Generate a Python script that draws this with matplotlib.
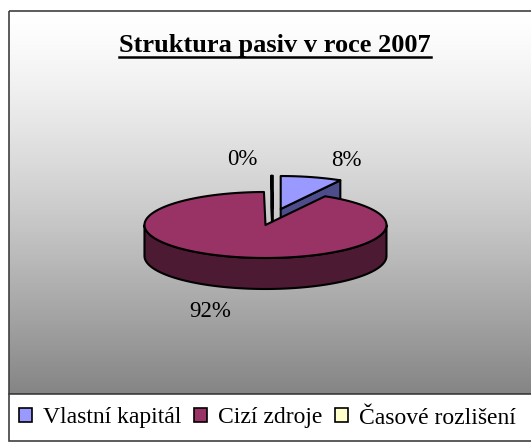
import numpy as np
import matplotlib.pyplot as plt
from matplotlib.patches import Polygon, Rectangle, Patch
from matplotlib.colors import LinearSegmentedColormap

plt.rcParams['font.family'] = ['Liberation Serif', 'DejaVu Serif']

# data
nazvy = ['Vlastní kapitál', 'Cizí zdroje', 'Časové rozlišení']
podily = [8.2, 91.6, 0.2]
barvy = ['#9999FF', '#993366', '#FFFFCC']
barvy_bok = ['#4D4D8C', '#4D1A33', '#808066']
titulek = 'Struktura pasiv v roce 2007'

# geometry of the 3d pie (pixels)
cx, cy = 273, 217
a, b = 121, 33
hloubka = 31
explode = 0.25
label_nudge = [(35, -17), (-25, 24), (-30, -16)]

fig = plt.figure(figsize=(5.31, 4.43), dpi=100)
ax = fig.add_axes([0, 0, 1, 1])
ax.set_xlim(0, 531)
ax.set_ylim(443, 0)
ax.axis('off')

# background gradient
cmap = LinearSegmentedColormap.from_list('g', ['#FFFFFF', '#858585'])
grad = np.linspace(0, 1, 256) ** 1.3
ax.imshow(grad.reshape(-1, 1), extent=(9, 531, 394, 11), cmap=cmap, aspect='auto',
          origin='upper', zorder=0, vmin=0, vmax=1)
ax.add_patch(Rectangle((9, 11), 530, 383, fill=False, edgecolor='#404040', lw=1.2, zorder=1))


def bod(sx, sy, t, dy=0):
    t = np.radians(t)
    return sx + a * np.cos(t), sy - b * np.sin(t) + dy


celkem = sum(podily)
start = 90.0
rezy = []
cum = 0
for i, v in enumerate(podily):
    t1 = start - cum / celkem * 360
    cum += v
    t2 = start - cum / celkem * 360
    mid = np.radians((t1 + t2) / 2)
    sx = cx + explode * a * np.cos(mid)
    sy = cy - explode * b * np.sin(mid)
    rezy.append((sy, i, t1, t2, sx))

kw = dict(edgecolor='black', lw=1.5, joinstyle='round')
for sy, i, t1, t2, sx in sorted(rezy):
    # radial faces
    for t, vis in ((t2, np.cos(np.radians(t2)) > 1e-6), (t1, np.cos(np.radians(t1)) < -1e-6)):
        if vis:
            p = bod(sx, sy, t)
            ax.add_patch(Polygon([(sx, sy), p, (p[0], p[1] + hloubka), (sx, sy + hloubka)],
                                 facecolor=barvy_bok[i], zorder=2, **kw))
    # outer wall (front half only)
    lo, hi = t2, t1
    for k in range(-2, 2):
        f0, f1 = -180 + 360 * k, 360 * k
        w0, w1 = max(lo, f0), min(hi, f1)
        if w1 > w0:
            ts = np.linspace(w0, w1, 120)
            top = [bod(sx, sy, t) for t in ts]
            bot = [bod(sx, sy, t, hloubka) for t in ts[::-1]]
            ax.add_patch(Polygon(top + bot, facecolor=barvy_bok[i], zorder=2, **kw))
    # top face
    ts = np.linspace(t1, t2, 200)
    ax.add_patch(Polygon([(sx, sy)] + [bod(sx, sy, t) for t in ts],
                         facecolor=barvy[i], zorder=3, **kw))
    # label
    mid = (t1 + t2) / 2
    lx, ly = bod(sx, sy, mid)
    if np.sin(np.radians(mid)) < 0:
        ly += hloubka
    lx += label_nudge[i][0]
    ly += label_nudge[i][1]
    ax.text(lx, ly, '%.0f%%' % podily[i], ha='center', va='center', fontsize=16.5, zorder=5)

# title with underline
tt = ax.text(275, 52, titulek, ha='center', va='baseline', fontsize=19,
             fontweight='bold', zorder=5)
fig.canvas.draw()
bb = tt.get_window_extent(fig.canvas.get_renderer()).transformed(ax.transData.inverted())
ax.plot([bb.x0, bb.x1], [56.5, 56.5], color='black', lw=1.8, zorder=5)

# legend
ax.add_patch(Rectangle((9, 394), 540, 47, facecolor='white', edgecolor='#404040', lw=1.2, zorder=4))
handles = [Patch(facecolor=c, edgecolor='black', lw=1.2) for c in barvy]
leg = ax.legend(handles, nazvy, loc='center left', bbox_to_anchor=(19 / 531, 1 - 418 / 443),
                bbox_transform=fig.transFigure, ncol=3, frameon=False, fontsize=17,
                handlelength=0.55, handleheight=0.55, handletextpad=0.45,
                columnspacing=0.55, borderpad=0, borderaxespad=0)
leg.set_zorder(6)

fig.savefig('out.png', dpi=100)
